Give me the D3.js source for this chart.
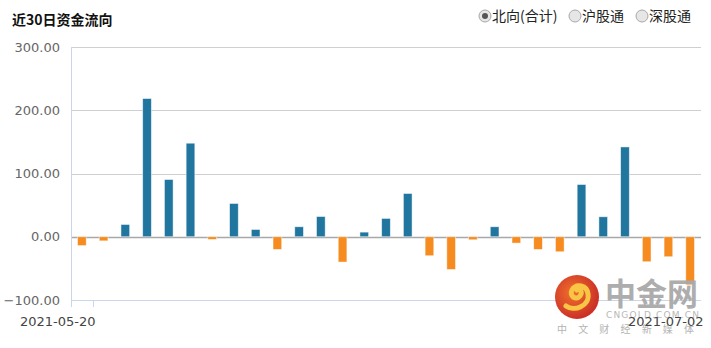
<!DOCTYPE html>
<html>
<head>
<meta charset="utf-8">
<script src="https://cdn.jsdelivr.net/npm/d3@7"></script>
<style>
  body { margin: 0; background: #fff; }
  svg { display: block; }
</style>
</head>
<body>
<div id="chart"></div>
<script>
// net northbound flow, last 29 sessions (亿元)
const flows = [
  -14, -6.5, 19.4, 218.5, 90.5, 147.9, -4.3, 52.6, 11.5, -20,
  15.8, 32, -40, 7.3, 29, 68.4, -30, -51.7, -4.8, 15.8,
  -10, -20, -23.7, 82.6, 31.6, 142, -39.5, -31.6, -76
];
const days = d3.range(1, flows.length + 1);
const yTicks = [-100, 0, 100, 200, 300];
// tick label text and the category boundary it sits on
const xTickLabels = ["2021-05-20", "2021-07-02"];
const xTickSlots = [1, 29];
const radioLabels = ["北向(合计)", "沪股通", "深股通"];

const W = 711, H = 348;
const PLOT = { left: 71, right: 701, top: 47, bottom: 300 };
const BLUE = "#21769f", ORANGE = "#f68b20";

const svg = d3.select("#chart").append("svg")
  .attr("width", W).attr("height", H)
  .attr("viewBox", `0 0 ${W} ${H}`);

svg.append("text")
  .attr("x", 12).attr("y", 25)
  .attr("font-family", "'Noto Sans CJK SC', sans-serif")
  .attr("font-size", 14).attr("font-weight", "bold")
  .attr("fill", "#111")
  .text("近30日资金流向");

// radio group in the top right
const radioX = [485, 575, 642];
const radio = svg.append("g").selectAll("g")
  .data(radioLabels).join("g")
  .attr("transform", (d, i) => `translate(${radioX[i]},16)`);
radio.append("circle")
  .attr("r", 6)
  .attr("fill", "#e6e6e6")
  .attr("stroke", "#a8a8a8");
radio.filter((d, i) => i === 0).append("circle")
  .attr("r", 3).attr("fill", "#555");
radio.append("text")
  .attr("x", 7).attr("y", 5)
  .attr("font-family", "'Noto Sans CJK SC', sans-serif")
  .attr("font-size", 14).attr("fill", "#222")
  .text(d => d);

const x = d3.scaleBand()
  .domain(days)
  .range([PLOT.left, PLOT.right])
  .paddingInner(0.6)
  .paddingOuter(0.3);

const y = d3.scaleLinear()
  .domain([-100, 300])
  .range([PLOT.bottom, PLOT.top]);

// horizontal grid
svg.append("g").selectAll("line")
  .data(yTicks).join("line")
  .attr("x1", PLOT.left).attr("x2", PLOT.right)
  .attr("y1", d => Math.round(y(d)) + 0.5).attr("y2", d => Math.round(y(d)) + 0.5)
  .attr("stroke", d => d === -100 ? "#ccd6eb" : d === 0 ? "#a8a8a8" : "#cfcfcf")
  .attr("stroke-width", d => d === 0 ? 1.5 : 1);

// y axis
const yAxis = svg.append("g")
  .attr("transform", `translate(${PLOT.left},0)`)
  .call(d3.axisLeft(y).tickValues(yTicks).tickFormat(d3.format(".2f")).tickSize(0).tickPadding(11));
yAxis.select(".domain").remove();
yAxis.selectAll("text")
  .attr("font-family", "'DejaVu Sans', sans-serif")
  .attr("font-size", 13).attr("fill", "#666");

svg.append("line")
  .attr("x1", PLOT.left + 0.5).attr("x2", PLOT.left + 0.5)
  .attr("y1", PLOT.top).attr("y2", PLOT.bottom + 7)
  .attr("stroke", "#ccd6eb");

// bars
svg.append("g").selectAll("rect")
  .data(flows).join("rect")
  .attr("x", (d, i) => x(days[i]))
  .attr("width", x.bandwidth())
  .attr("y", d => y(Math.max(0, d)))
  .attr("height", d => Math.abs(y(d) - y(0)))
  .attr("fill", d => d >= 0 ? BLUE : ORANGE)
  .attr("stroke", "#fff")
  .attr("stroke-opacity", 0.6)
  .attr("stroke-width", 0.8);

// watermark logo
const logo = svg.append("g").attr("opacity", 0.95);
const grad = svg.append("defs").append("radialGradient")
  .attr("id", "logoGrad").attr("cx", "40%").attr("cy", "40%").attr("r", "60%");
grad.append("stop").attr("offset", "0%").attr("stop-color", "#f06a22");
grad.append("stop").attr("offset", "100%").attr("stop-color", "#c9261c");
logo.append("circle")
  .attr("cx", 577).attr("cy", 297).attr("r", 22)
  .attr("fill", "url(#logoGrad)");
logo.append("path")
  .attr("d", "M566,306 C574,312 590,306 588,294 C587,285 576,283 572,290 C569,296 576,301 580,296 C583,292 580,288 577,290")
  .attr("fill", "none")
  .attr("stroke", "#f9c23c")
  .attr("stroke-width", 5)
  .attr("stroke-linecap", "round");
logo.append("text")
  .attr("x", 605).attr("y", 305)
  .attr("font-family", "'Noto Sans CJK SC', sans-serif")
  .attr("font-size", 31).attr("font-weight", "bold")
  .attr("fill", "#a9a9a9")
  .text("中金网");
logo.append("text")
  .attr("x", 606).attr("y", 318)
  .attr("font-family", "'DejaVu Sans', sans-serif")
  .attr("font-size", 9).attr("fill", "#b5b5b5")
  .attr("textLength", 93)
  .text("CNGOLD.COM.CN");
logo.append("text")
  .attr("x", 557).attr("y", 333)
  .attr("font-family", "'Noto Sans CJK SC', sans-serif")
  .attr("font-size", 10).attr("fill", "#b0b0b0")
  .attr("textLength", 137)
  .text("中文财经新媒体");

// x axis ticks and labels
const xTicks = svg.append("g").selectAll("g")
  .data(xTickLabels).join("g")
  .attr("transform", (d, i) => `translate(${Math.round(PLOT.left + x.step() * xTickSlots[i] - 0.6 * x.step() * (xTickSlots[i] === days.length ? 0 : 0)) + 0.5},${PLOT.bottom})`);
xTicks.filter((d, i) => i === 0).append("line")
  .attr("y1", 0).attr("y2", 7)
  .attr("stroke", "#ccd6eb");
xTicks.append("text")
  .attr("x", 2).attr("y", 26)
  .attr("text-anchor", "end")
  .attr("font-family", "'DejaVu Sans', sans-serif")
  .attr("font-size", 13).attr("fill", "#444")
  .text(d => d);
</script>
</body>
</html>
